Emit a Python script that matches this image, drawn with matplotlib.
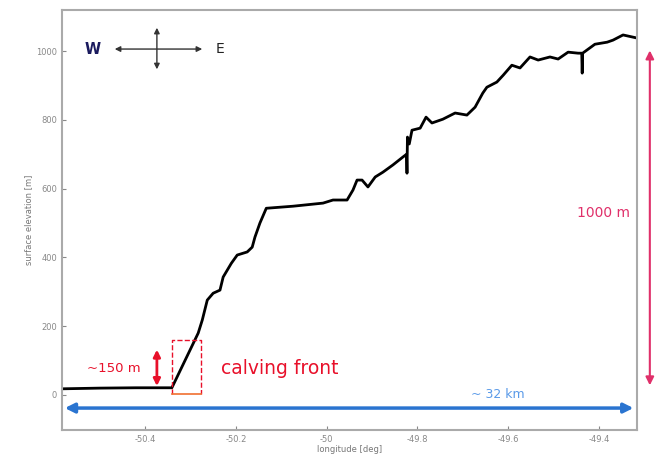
import matplotlib
matplotlib.use("Agg")
import matplotlib.pyplot as plt
import numpy as np

# surface profile: longitude [deg], elevation [m]
lon = [-50.583, -50.50, -50.42, -50.341, -50.283, -50.274, -50.263, -50.25, -50.235,
       -50.228, -50.21, -50.197, -50.175, -50.164, -50.158, -50.147, -50.133,
       -50.074, -50.008, -49.986, -49.955, -49.942, -49.933, -49.922, -49.909,
       -49.893, -49.876, -49.854, -49.832, -49.824, -49.823, -49.822, -49.818,
       -49.812, -49.794, -49.781, -49.768, -49.744, -49.717, -49.691, -49.673,
       -49.656, -49.647, -49.625, -49.611, -49.592, -49.574, -49.552, -49.534,
       -49.508, -49.490, -49.468, -49.446, -49.438, -49.437, -49.436, -49.409,
       -49.382, -49.369, -49.347, -49.316]
elev = [18, 20, 21, 21, 180, 218, 276, 296, 305,
        343, 383, 407, 416, 430, 459, 500, 543,
        549, 558, 567, 567, 596, 625, 625, 605,
        634, 648, 669, 692, 700, 645, 750, 730,
        770, 776, 808, 791, 802, 820, 814, 837,
        878, 895, 910, 930, 959, 951, 983, 974,
        983, 977, 997, 994, 994, 936, 994, 1020,
        1026, 1032, 1047, 1038]

xticks = [-50.4, -50.2, -50, -49.8, -49.6, -49.4]
xticklabels = ["-50.4", "-50.2", "-50", "-49.8", "-49.6", "-49.4"]
yticks = [0, 200, 400, 600, 800, 1000]

fig = plt.figure(figsize=(6.55, 4.69), dpi=100)
ax = fig.add_axes([0.0947, 0.083, 0.878, 0.896])
ax.plot(lon, elev, color="black", lw=2)

ax.set_xlim(-50.583, -49.316)
ax.set_ylim(-102, 1120)
ax.set_xticks(xticks)
ax.set_xticklabels(xticklabels)
ax.set_yticks(yticks)
ax.tick_params(direction="in", labelsize=6, colors="#888888", length=3)
for s in ax.spines.values():
    s.set_color("#aaaaaa")
    s.set_linewidth(1.5)
ax.set_xlabel("longitude [deg]", fontsize=6, color="#777777", labelpad=1)
ax.set_ylabel("surface elevation [m]", fontsize=6, color="#777777", labelpad=2)

# compass
ax.annotate("", xy=(-50.473, 1006), xytext=(-50.268, 1006),
            arrowprops=dict(arrowstyle="<|-|>", color="#333333", lw=1, mutation_scale=8))
ax.annotate("", xy=(-50.374, 1076), xytext=(-50.374, 939),
            arrowprops=dict(arrowstyle="<|-|>", color="#333333", lw=1, mutation_scale=8))
ax.text(-50.498, 1006, "W", fontsize=10.5, color="#1a1a5e", fontweight="bold",
        ha="right", va="center")
ax.text(-50.244, 1006, "E", fontsize=10, color="#222222", ha="left", va="center")

# ~150 m step at the calving front
ax.annotate("", xy=(-50.374, 140), xytext=(-50.374, 18),
            arrowprops=dict(arrowstyle="<|-|>", color="#e8102a", lw=2, mutation_scale=10))
ax.text(-50.409, 76, "~150 m", fontsize=9.5, color="#e8102a", ha="right", va="center")
ax.plot([-50.341, -50.341, -50.277, -50.277], [3, 160, 160, 3],
        color="#e8102a", lw=1, ls="--")
ax.plot([-50.341, -50.277], [3, 3], color="#f07030", lw=1.2)
ax.text(-50.232, 78, "calving front", fontsize=13.5, color="#e8102a",
        ha="left", va="center")

# horizontal distance
ax.annotate("", xy=(-50.583, -38), xytext=(-49.318, -38),
            arrowprops=dict(arrowstyle="<|-|>", color="#2a74d0", lw=2.5, mutation_scale=14))
ax.text(-49.622, 2, "~ 32 km", fontsize=9, color="#5a9ae8", ha="center", va="center")

# vertical extent, drawn outside the axes
ax.annotate("", xy=(-49.288, 1010), xytext=(-49.288, 20),
            arrowprops=dict(arrowstyle="<|-|>", color="#e0306a", lw=1.5, mutation_scale=12),
            annotation_clip=False)
ax.text(-49.391, 529, "1000 m", fontsize=10, color="#e0306a", ha="center", va="center")

fig.savefig("out.png", dpi=100)
